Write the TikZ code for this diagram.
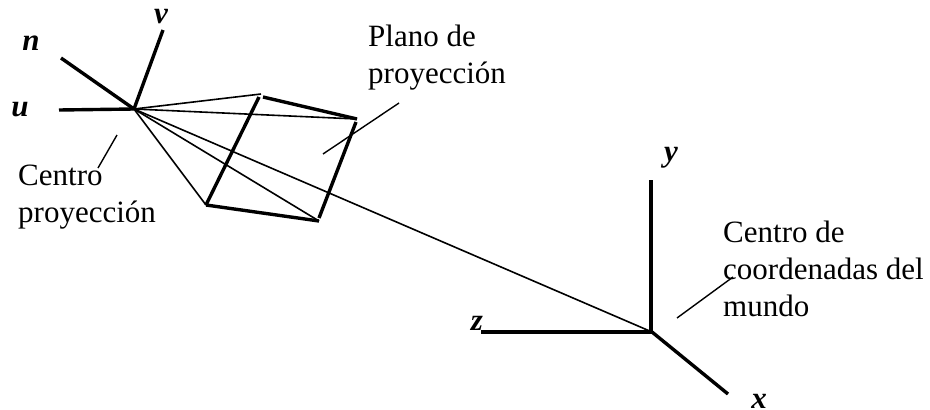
\documentclass[tikz,border=0pt]{standalone}
\usepackage{fontspec}
\setmainfont{Liberation Serif}
\tikzset{
  thinline/.style={line width=1.6pt,black},
  thickline/.style={line width=3.4pt,black},
  leader/.style={line width=1.4pt,black},
  lbl/.style={inner sep=0pt,anchor=base west,font=\fontsize{31}{37}\selectfont,align=left},
  axl/.style={inner sep=0pt,anchor=base,font=\fontsize{31}{37}\selectfont\bfseries\itshape}
}
\begin{document}
\begin{tikzpicture}[x=1pt,y=-1pt]
\useasboundingbox (0,0) rectangle (930,410);
% camera frame
\coordinate (O) at (134,109);
\coordinate (vend) at (163,30);
\coordinate (nend) at (61,58);
\coordinate (uend) at (59,110);
% plane corners
\coordinate (A) at (261,94);
\coordinate (B) at (357,119);
\coordinate (C) at (206,205);
\coordinate (D) at (319,221);
% world frame
\coordinate (W) at (652,332);
\coordinate (yend) at (651,180);
\coordinate (zend) at (481,332);
\coordinate (xend) at (728,394);
% thin projectors
\draw[thinline] (O) -- (A);
\draw[thinline] (O) -- (B);
\draw[thinline] (O) -- (C);
\draw[thinline] (O) -- (D);
\draw[thinline] (O) -- (W);
% camera axes
\draw[thickline] (O) -- (vend);
\draw[thickline] (O) -- (nend);
\draw[thickline] (O) -- (uend);
% plane edges
\coordinate (A1) at (259,97);
\coordinate (A2) at (263,97);
\coordinate (B1) at (356,122);
\coordinate (D1) at (319,218);
\draw[thickline] (A1) -- (C);
\draw[thickline] (C) -- (D);
\draw[thickline] (D1) -- (B1);
\draw[thickline] (A2) -- (B);
% world axes
\draw[thickline] (W) ++(-1,1) -- (yend);
\draw[thickline] (W) -- (zend);
\draw[thickline] (W) -- (xend);
% leaders
\coordinate (p1) at (399,103);
\coordinate (p2) at (323,154);
\coordinate (c1) at (117,135);
\coordinate (c2) at (98,168);
\coordinate (w1) at (733,277);
\coordinate (w2) at (677,318);
\draw[leader] (p1) -- (p2);
\draw[leader] (c1) -- (c2);
\draw[leader] (w1) -- (w2);
% labels
\node[axl] (lv) at (161,23) {v};
\node[axl] (ln) at (31,50) {n};
\node[axl] (lu) at (20,116) {u};
\node[axl] (ly) at (671,161) {y};
\node[axl] (lz) at (477,330) {z};
\node[axl] (lx) at (759,408) {x};
\node[lbl] (plano) at (368,83) {Plano de\\proyección};
\node[lbl] (centro) at (18,222) {Centro\\proyección};
\node[lbl] (mundo) at (723,316) {Centro de\\coordenadas del\\mundo};
\end{tikzpicture}
\end{document}
